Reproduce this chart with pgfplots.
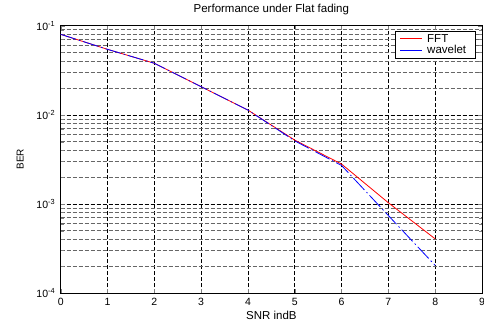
\documentclass[border=0pt]{standalone}
\usepackage{fontspec}
\setmainfont{Liberation Sans}
\usepackage{pgfplots}
\pgfplotsset{compat=1.18}
\begin{document}
\begin{tikzpicture}
\useasboundingbox (0pt,0pt) rectangle (484pt,324pt);
\begin{axis}[
  at={(60.7pt,31pt)}, anchor=south west,
  scale only axis, width=421.3pt, height=267.3pt,
  ymode=log, xmin=0, xmax=9, ymin=1e-4, ymax=1e-1,
  xtick={0,1,2,3,4,5,6,7,8,9},
  ytick={1e-4,1e-3,1e-2,1e-1},
  yticklabels={10\textsuperscript{-4},10\textsuperscript{-3},10\textsuperscript{-2},10\textsuperscript{-1}},
  /pgf/number format/assume math mode=true,
  grid=both,
  major grid style={black, dash pattern=on 4pt off 2pt, line width=0.6pt},
  minor grid style={black!60, dash pattern=on 4pt off 2pt, line width=0.6pt},
  tick align=inside,
  axis line style={black, line width=0.8pt},
  ticklabel style={font=\fontsize{10.5}{12}\selectfont},
  xticklabel style={yshift=-2pt},
  yticklabel style={xshift=-2pt},
  title={Performance under Flat fading},
  title style={font=\fontsize{11.5}{13}\selectfont, at={(0.5,1)}, anchor=south, yshift=1pt},
  xlabel={SNR indB},
  xlabel style={font=\fontsize{11.5}{13}\selectfont, yshift=2pt},
  ylabel={BER},
  ylabel style={font=\fontsize{10}{12}\selectfont, yshift=6pt},
  legend style={at={(0.986,0.981)}, anchor=north east, draw=black, line width=0.8pt,
    font=\fontsize{11.5}{13}\selectfont, inner xsep=5pt, inner ysep=1pt, row sep=-2pt,
    nodes={inner xsep=4.5pt}},
  legend cell align=left,
  legend image code/.code={\draw[#1, solid] (0pt,0pt) -- (22pt,0pt);},
]
\addplot[red, line width=0.8pt] coordinates {
(0,0.080) (1,0.0543) (2,0.0379) (3,0.0207) (4,0.0113) (5,0.0052) (6,0.0028) (7,0.00103) (8,0.000405)
};
\addlegendentry{FFT}
\addplot[blue, line width=0.8pt, dash pattern=on 16pt off 3pt on 1.5pt off 3pt] coordinates {
(0,0.080) (1,0.0543) (2,0.0379) (3,0.0207) (4,0.0113) (5,0.0051) (6,0.0027) (7,0.00074) (8,0.000204)
};
\addlegendentry{wavelet}
\end{axis}
\end{tikzpicture}
\end{document}
